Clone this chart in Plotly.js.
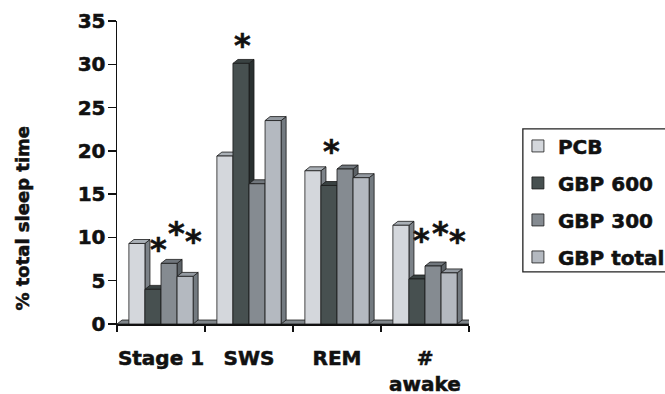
<!DOCTYPE html>
<html><head><meta charset="utf-8">
<script src="https://cdn.plot.ly/plotly-3.0.1.min.js"></script>
<style>html,body{margin:0;padding:0;background:#fff}#chart{width:665px;height:394px}
#chart svg text{stroke:#111;stroke-width:0.55px;}</style>
</head><body><div id="chart"></div>
<script>
// ---- data ----
const categories = ['Stage 1', 'SWS', 'REM', '#<br>awake'];
const seriesNames = ['PCB', 'GBP 600', 'GBP 300', 'GBP total'];
const pcb      = [9.3, 19.4, 17.7, 11.4];
const gbp600   = [4.0, 30.1, 16.0, 5.2];
const gbp300   = [7.0, 16.2, 17.9, 6.7];
const gbpTotal = [5.5, 23.5, 16.9, 5.9];
// significance asterisks: category index, series index, height (% units)
const starCat    = [0, 0, 0, 1, 2, 3, 3, 3];
const starSeries = [1, 2, 3, 1, 1, 1, 2, 3];
const starY      = [8.9, 10.7, 9.8, 32.5, 20.2, 9.9, 10.8, 9.8];
const yTicks = [0, 5, 10, 15, 20, 25, 30, 35];
const yTitle = '% total sleep time';

// ---- style ----
const values = [pcb, gbp600, gbp300, gbpTotal];
const frontColors = ['#d4d7dc', '#475050', '#858b91', '#b4b9c0'];
const sideColors  = ['#7c8288', '#2a3131', '#5c6267', '#737a80'];
const topColors   = ['#aab0b6', '#3a4242', '#70767c', '#949aa1'];
const starShift   = [6, 7, 8, 2, 3, 5, 7, 8];
const edge = '#1a1a1a';
const FONT = 'DejaVu Sans, Arial, sans-serif';
const bargap = 0.27;
const nS = values.length;
const bw = (1 - bargap) / nS;
const DX = 0.057;  // depth offset along x (category units)
const DY = 0.46;   // depth offset along y (value units)

const traces = values.map((v, k) => ({
  type: 'bar', name: seriesNames[k], x: categories, y: v,
  legendgroup: 'g' + k,
  marker: {color: frontColors[k], line: {color: edge, width: 0.8}},
  hoverinfo: 'skip'
}));

const shapes = [];
// floor slab
shapes.push({type: 'path', layer: 'below', xref: 'x', yref: 'y',
  path: `M${-0.5},0 L${categories.length - 0.5},0 L${categories.length - 0.5 + DX},${DY} L${-0.5 + DX},${DY} Z`,
  fillcolor: '#80868b', line: {color: edge, width: 0.8}});
categories.forEach((c, i) => {
  values.forEach((v, k) => {
    const l = i - (1 - bargap) / 2 + k * bw;
    const r = l + bw;
    const h = v[i];
    shapes.push({type: 'path', layer: 'below', xref: 'x', yref: 'y',
      path: `M${r},0 L${r},${h} L${r + DX},${h + DY} L${r + DX},${DY} Z`,
      fillcolor: sideColors[k], line: {color: edge, width: 0.8}});
    shapes.push({type: 'path', layer: 'below', xref: 'x', yref: 'y',
      path: `M${l},${h} L${r},${h} L${r + DX},${h + DY} L${l + DX},${h + DY} Z`,
      fillcolor: topColors[k], line: {color: edge, width: 0.8}});
  });
});
// legend frame (runs past the right edge of the picture, as in the original)
shapes.push({type: 'rect', layer: 'above', xref: 'paper', yref: 'paper',
  x0: 1.153, x1: 1.6, y0: 0.172, y1: 0.644,
  fillcolor: 'rgba(0,0,0,0)', line: {color: '#222', width: 1.3}});

const annotations = starCat.map((ci, j) => ({
  x: ci - (1 - bargap) / 2 + (starSeries[j] + 0.5) * bw, y: starY[j],
  xref: 'x', yref: 'y', text: '*', showarrow: false,
  xshift: starShift[j], yshift: -2, yanchor: 'middle',
  font: {family: FONT, size: 32, color: '#111', weight: 'bold'}
}));
annotations.push({xref: 'paper', yref: 'paper', x: -0.268, y: 0.35,
  xanchor: 'center', yanchor: 'middle', textangle: -90, showarrow: false,
  text: yTitle, font: {family: FONT, size: 18, color: '#111', weight: 'bold'}});

const layout = {
  width: 665, height: 394,
  margin: {l: 117, r: 196, t: 21, b: 70, autoexpand: false},
  paper_bgcolor: '#ffffff', plot_bgcolor: 'rgba(0,0,0,0)',
  barmode: 'group', bargap: bargap, bargroupgap: 0,
  showlegend: true,
  font: {family: FONT, color: '#111', weight: 'bold'},
  xaxis: {type: 'category', range: [-0.5, 3.5], tickson: 'boundaries',
    ticks: 'outside', ticklen: 6, tickwidth: 1.5, tickcolor: '#111', tickangle: 0,
    showline: true, linecolor: '#111', linewidth: 1.5, showgrid: false,
    ticklabelstandoff: 15, automargin: false,
    tickfont: {family: FONT, size: 20, color: '#111', weight: 'bold'}},
  yaxis: {range: [0, 35], tickvals: yTicks, ticks: 'outside', ticklen: 8,
    tickwidth: 1.5, tickcolor: '#111', showline: true, linecolor: '#111', linewidth: 1.5,
    showgrid: false, zeroline: false, ticklabelstandoff: -2, automargin: false,
    tickfont: {family: FONT, size: 20, color: '#111', weight: 'bold'}},
  legend: {x: 1.139, xanchor: 'left', y: 0.652, yanchor: 'top',
    borderwidth: 0, bgcolor: 'rgba(0,0,0,0)',
    tracegroupgap: 8, traceorder: 'grouped',
    font: {family: FONT, size: 20, color: '#111', weight: 'bold'}},
  shapes: shapes, annotations: annotations
};

Plotly.newPlot('chart', traces, layout, {staticPlot: true, displayModeBar: false});
</script></body></html>
